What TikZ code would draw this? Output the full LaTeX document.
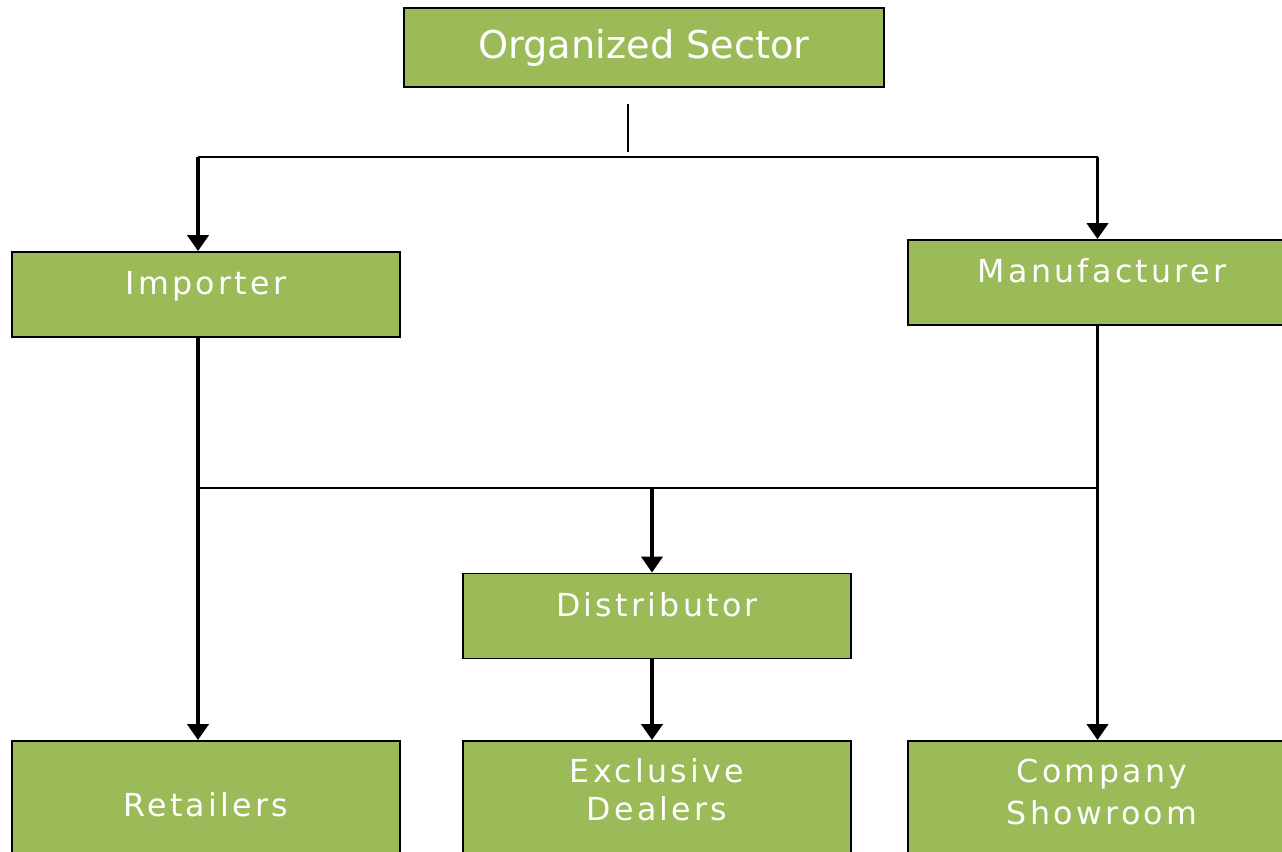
\documentclass[tikz,border=0pt]{standalone}
\usepackage{fontspec}
\newfontfamily\boxfont[LetterSpace=10.5]{DejaVu Sans}
\newfontfamily\headfont{DejaVu Sans}
\usetikzlibrary{arrows.meta}
\definecolor{leafgreen}{HTML}{9BBB59}

\begin{document}
\begin{tikzpicture}[
    every node/.style={rectangle, draw, line width=1.1pt, fill=leafgreen, text=white, inner sep=0pt},
    box/.style={minimum width=7.76cm, minimum height=1.7cm, text height=.35cm, text depth=.35cm, font=\boxfont\fontsize{18}{22}\selectfont},
    low/.style={anchor=north, minimum width=7.76cm, align=center, text depth=1.5cm, font=\boxfont\fontsize{18}{22}\selectfont},
    bar/.style={line width=1.3pt},
    arr/.style={line width=1.9pt, -{Triangle[length=9pt,width=12pt]}}]

    \useasboundingbox (0,0) rectangle (25.64,-17.04);

    % Nodes
    \node[minimum width=9.6cm, minimum height=1.58cm, font=\headfont\fontsize{21.8}{26}\selectfont] (org) at (12.88,-0.95) {Organized Sector};
    \node[box] (imp) at (4.12,-5.89) {Importer};
    \node[box] (man) at (22.04,-5.65) {Manufacturer};
    \node[box] (dis) at (13.14,-12.32) {Distributor};
    \node[low, text height=1.51cm] (ret) at (4.12,-14.8) {Retailers};
    \node[low, text height=1.6cm] (exd) at (13.14,-14.8) {Exclusive\\Dealers};
    \node[low, text height=1.68cm] (csr) at (22.04,-14.8) {Company\\[2pt]Showroom};

    % Junctions
    \coordinate (s1) at (12.56,-2.08);
    \coordinate (s2) at (12.56,-3.04);
    \coordinate (j1) at (3.96,-3.14);
    \coordinate (j2) at (21.95,-3.14);
    \coordinate (j3) at (3.96,-9.76);
    \coordinate (j4) at (21.95,-9.76);
    \coordinate (j5) at (13.04,-9.76);

    % Edges
    \draw[line width=.8pt] (s1) -- (s2);
    \draw[bar] (j1) -- (j2);
    \draw[arr] (j1) -- (j1 |- imp.north);
    \draw[arr] (j2) -- (j2 |- man.north);
    \draw[arr] (j1 |- imp.south) -- (j1 |- ret.north);
    \draw[arr] (j4 |- man.south) -- (j4 |- csr.north);
    \draw[bar] (j3) -- (j4);
    \draw[arr] (j5) -- (j5 |- dis.north);
    \draw[arr] (j5 |- dis.south) -- (j5 |- exd.north);

\end{tikzpicture}
\end{document}
